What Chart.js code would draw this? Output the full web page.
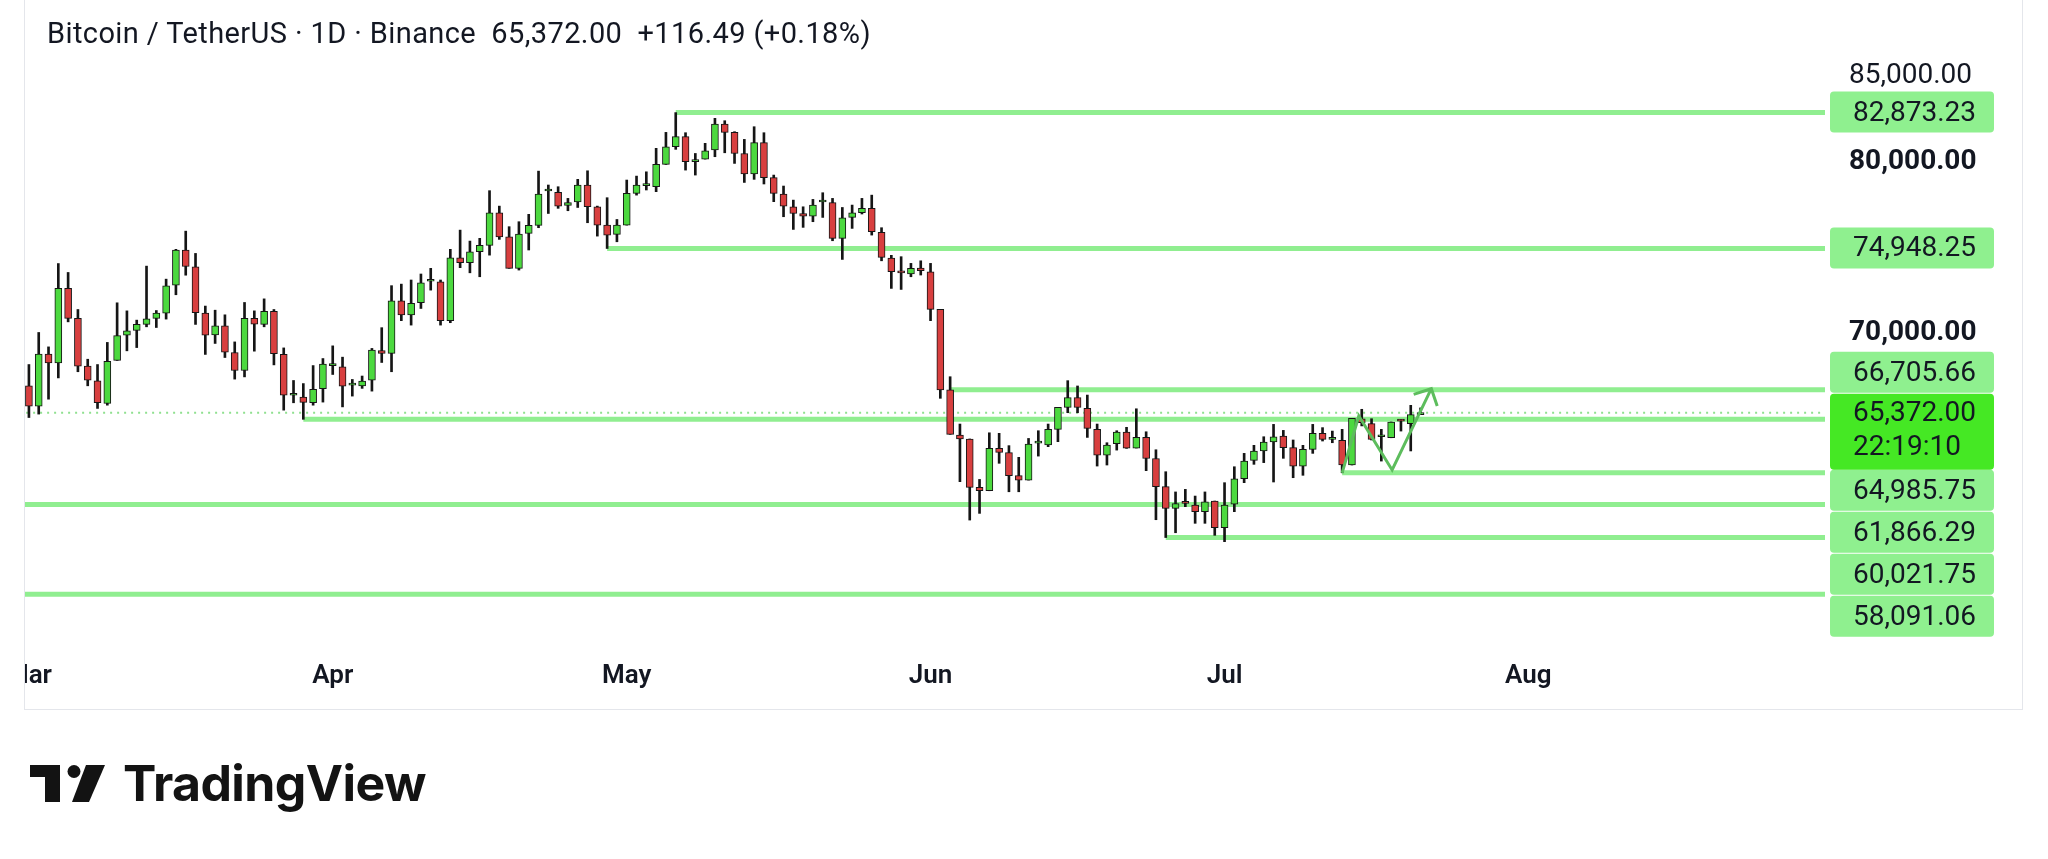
<!DOCTYPE html>
<html>
<head>
<meta charset="utf-8">
<title>BTCUSDT 1D</title>
<script src="https://cdn.jsdelivr.net/npm/chart.js@4.4.1/dist/chart.umd.min.js"></script>
<style>
  html, body { margin: 0; padding: 0; background: #fff; }
  body { width: 2048px; height: 859px; position: relative; overflow: hidden; font-family: Roboto, sans-serif; }
  #pane { position: absolute; left: 24px; top: 0; width: 1997px; height: 709px;
          border-left: 1px solid #e4e6eb; border-right: 1px solid #e4e6eb; border-bottom: 1px solid #e4e6eb; }
  #chart { position: absolute; left: 0; top: 0; }
  #title { position: absolute; left: 47px; top: 19px; font-size: 29px; line-height: 29px; color: #131722;
           white-space: pre; letter-spacing: 0.4px; }
  #logo { position: absolute; left: 30px; top: 758px; height: 60px; }
  #logo svg { position: absolute; left: 0; top: 7px; }
  #logo span { position: absolute; left: 93px; top: 0; font-family: Inter, sans-serif; font-weight: 700;
               font-size: 50px; line-height: 51px; color: #131313; white-space: nowrap; letter-spacing: -0.6px; }
</style>
</head>
<body>
<div id="pane"><canvas id="chart" width="1997" height="709"></canvas></div>
<div id="title">Bitcoin / TetherUS · 1D · Binance  65,372.00  +116.49 (+0.18%)</div>
<div id="logo">
  <svg width="80" height="40" viewBox="0 0 80 40">
    <path d="M0 0 H30 V37 H15 V12 H0 Z" fill="#131313"/>
    <circle cx="44" cy="6.5" r="6.5" fill="#131313"/>
    <path d="M56 0 H75 L59 37 H42 Z" fill="#131313"/>
  </svg>
  <span>TradingView</span>
</div>
<script>
// daily candles, 1 Mar .. 21 Jul (index 0 = 1 Mar)
const opens = [
  66940,65750,68790,68280,72620,70870,68090,67230,65910,68420,
  69890,70170,70520,70870,71180,72810,74850,73880,71180,69910,
  70440,68880,67830,70870,70520,71290,68770,66390,66280,65950,66780,
  68110,68050,66980,66930,67270,68990,68830,71900,71070,71790,
  73040,73010,70740,74410,74120,74760,75130,77030,75630,73790,
  75830,76300,78300,78220,77460,77660,78650,77380,76310,75770,
  76310,78160,78610,78550,79850,80880,81470,80010,80160,80690,
  82200,81720,80490,79290,81120,79080,78120,77380,76990,76840,
  77660,77620,75540,76760,77030,77290,75890,74390,73540,73460,73810,
  73590,71400,66706,64070,63840,61020,60820,63290,63040,61700,
  61440,63600,63490,64400,65680,66250,65620,64400,62900,63560,
  64240,63310,63930,62700,61060,59790,60090,59990,59600,60220,
  58670,60030,61520,62590,63140,63660,64010,63330,62260,63230,
  64170,63820,63760,62320,65020,64730,63970,63910,64890,64730,65256
];
const highs = [
  68180,70050,69210,74070,73550,71390,68490,68180,69470,71780,
  71310,70770,73920,71330,73160,74900,75960,74660,71590,71350,
  71080,69500,71800,71310,72010,71390,69150,67250,67070,68120,68530,
  69270,68610,67310,67510,69120,70330,72780,72870,73110,73460,
  73790,73110,74900,76020,75380,75540,78320,77420,76220,76510,
  76940,79460,78650,78550,77870,78980,79480,77420,77910,76640,
  78940,79170,79420,80790,81720,82873,81700,80490,81080,82540,
  82400,81760,81310,82050,81700,79230,78590,77770,77380,77810,
  78200,77870,77340,77480,77870,78060,76160,74550,74470,74080,74230,
  74080,71400,67470,64710,63840,61480,64200,64170,63450,62770,
  63870,64320,64710,65680,67240,66930,66400,64710,63620,64320,
  64520,65600,64260,63210,61930,60750,60900,60510,60750,60220,
  61290,62220,63000,63470,63970,64690,64340,63780,63470,64690,
  64500,64300,64400,65040,65570,65020,64400,64830,64980,65800,65650
];
const lows = [
  65090,65290,66160,67400,70670,67760,66940,65620,65810,68420,
  68980,69170,70380,70340,70830,72250,73390,70520,68770,69410,
  68590,67330,67460,68960,70380,68160,65520,65950,64986,65810,65990,
  67600,65710,66340,66790,66630,68300,67760,70740,70480,71450,
  72520,70480,70620,73830,73530,73300,74560,75480,73790,73690,
  74860,76160,76990,77290,77150,77340,76450,75670,74948,75340,
  76310,78060,78360,78260,79850,80730,79520,79230,80160,80300,
  80530,79910,78800,78980,78710,77680,76800,76060,76180,76510,
  76760,75400,74310,76120,76960,75730,74230,72620,72560,73300,73400,
  70740,66210,64110,61350,59110,59500,60820,62420,60760,60760,
  61440,62840,63390,63680,65370,65370,63930,62260,62320,63190,
  63290,63310,61990,59130,58091,58370,59890,58920,58920,58220,
  57850,59600,61290,62360,62460,61330,62710,61580,61720,63000,
  63720,63620,61866,62320,64600,63780,62550,63910,64300,63140,65256
];
const closes = [
  65750,68790,68280,72620,70870,68090,67270,65950,68360,69870,
  70150,70520,70850,71180,72770,74850,73900,71200,69890,70440,
  68900,67830,70870,70540,71290,68810,66390,66430,65970,66740,68200,
  68240,66920,66990,67220,69020,68830,71900,71070,71750,72950,
  73060,70740,74410,74120,74760,75130,77030,75630,73790,75790,
  76300,78120,78320,77420,77620,78650,77380,76310,75730,76310,
  78160,78650,78620,79850,80880,81470,80010,80110,80650,82200,
  81720,80490,79290,81120,79080,78160,77420,76990,76840,77480,
  77680,75540,76740,77030,77290,75930,74430,73590,73530,73790,73650,
  71400,66706,64110,63840,61020,60820,63290,63060,61700,61440,
  63540,63620,64400,65680,66250,65680,64460,62900,63490,64240,
  63310,63930,62700,61060,59790,60070,60080,59600,60180,58670,
  59990,61520,62550,63140,63660,63970,63330,62260,63230,64170,
  63820,63830,62320,65040,64790,63820,63980,64830,64880,65256,65372
];

const monthLabels = ['Mar', 'Apr', 'May', 'Jun', 'Jul', 'Aug'];
const monthStartDays = [0, 31, 61, 92, 122, 153];
const priceTicks = [85000, 80000, 70000];

// horizontal levels drawn on the chart
const levelPrices = [82873.23, 74948.25, 66705.66, 64985.75, 61866.29, 60021.75, 58091.06, 54780];
const levelStartDays = [66, 59, 94, 28, 134, -1, 116, -1];
const levelHasLabel = [true, true, true, true, true, true, true, false];

const lastPrice = 65372.00;
const countdown = '22:19:10';

// projection path drawn by hand
const pathDays = [134, 135.7, 139.1, 143.1];
const pathPrices = [61866, 65180, 62030, 66770];
const headDays = [141.3, 143.1, 143.7];
const headPrices = [66440, 66770, 65760];

const GREEN = '#4cd93f';
const RED = '#d83f3f';
const EDGE = '#151515';
const LEVEL = '#90ee90';
const fmt = v => v.toLocaleString('en-US', { minimumFractionDigits: 2, maximumFractionDigits: 2 });

const days = opens.map((_, i) => i);
const candleColor = i => closes[i] >= opens[i] ? GREEN : RED;

const datasets = [];
datasets.push({
  type: 'line', order: 9,
  data: [{ x: -1, y: lastPrice }, { x: 400, y: lastPrice }],
  borderColor: '#8fe08f', borderWidth: 2, borderDash: [2, 5], pointRadius: 0
});
levelPrices.forEach((p, i) => {
  datasets.push({
    type: 'line', order: 8,
    data: [{ x: levelStartDays[i], y: p }, { x: 400, y: p }],
    borderColor: LEVEL, borderWidth: 5, pointRadius: 0, borderCapStyle: 'butt'
  });
});
datasets.push({
  type: 'bar', order: 6, grouped: false,
  data: days.map(i => ({ x: i, y: [lows[i], highs[i]] })),
  backgroundColor: EDGE, borderWidth: 0, barThickness: 2
});
datasets.push({
  type: 'bar', order: 5, grouped: false,
  data: days.map(i => ({ x: i, y: [opens[i], closes[i]] })),
  backgroundColor: c => candleColor(c.dataIndex),
  borderColor: EDGE, borderWidth: 1, borderSkipped: false,
  barThickness: 7, minBarLength: 2
});
datasets.push({
  type: 'line', order: 1,
  data: pathDays.map((d, i) => ({ x: d, y: pathPrices[i] })),
  borderColor: '#5dbd5d', borderWidth: 3, pointRadius: 0, tension: 0
});
datasets.push({
  type: 'line', order: 1,
  data: headDays.map((d, i) => ({ x: d, y: headPrices[i] })),
  borderColor: '#5dbd5d', borderWidth: 3, pointRadius: 0, tension: 0
});

// price boxes on the right scale, stacked around the last price box
const priceLabels = {
  id: 'priceLabels',
  afterDraw(chart) {
    const ctx = chart.ctx;
    const ys = chart.scales.y;
    const boxX = chart.chartArea.right + 5, boxW = 164, boxH = 42;
    const curY = ys.getPixelForValue(lastPrice);
    const curTop = curY - 19, curH = 76;

    const items = levelPrices
      .map((p, i) => ({ p, show: levelHasLabel[i], y: ys.getPixelForValue(p) }))
      .filter(it => it.show);
    const above = items.filter(it => it.p > lastPrice).sort((a, b) => b.y - a.y);
    const below = items.filter(it => it.p <= lastPrice).sort((a, b) => a.y - b.y);
    let limit = curTop;
    above.forEach(it => {
      let top = it.y - boxH / 2;
      if (top + boxH > limit) top = limit - boxH;
      it.top = top; limit = top;
    });
    limit = curTop + curH;
    below.forEach(it => {
      let top = it.y - boxH / 2;
      if (top < limit) top = limit;
      it.top = top; limit = top + boxH;
    });

    ctx.save();
    ctx.font = '28px Roboto';
    ctx.textBaseline = 'middle';
    ctx.textAlign = 'left';
    above.concat(below).forEach(it => {
      ctx.fillStyle = '#8ff08f';
      ctx.beginPath();
      ctx.roundRect(boxX, it.top, boxW, boxH - 1, 4);
      ctx.fill();
      ctx.fillStyle = '#131722';
      ctx.fillText(fmt(it.p), boxX + 23, it.top + boxH / 2 + 1);
    });
    ctx.fillStyle = '#45e824';
    ctx.beginPath();
    ctx.roundRect(boxX, curTop, boxW, curH, 4);
    ctx.fill();
    ctx.fillStyle = '#131722';
    ctx.fillText(fmt(lastPrice), boxX + 23, curY + 1);
    ctx.fillText(countdown, boxX + 23, curY + 35);
    ctx.restore();
  }
};

new Chart(document.getElementById('chart'), {
  type: 'bar',
  data: { datasets },
  plugins: [priceLabels],
  options: {
    responsive: false,
    devicePixelRatio: 1,
    animation: false,
    layout: { padding: 0, autoPadding: false },
    plugins: { legend: { display: false }, tooltip: { enabled: false } },
    scales: {
      x: {
        type: 'linear', min: -0.4, max: 183.27, offset: false,
        grid: { display: false, drawTicks: false, offset: false }, border: { display: false },
        afterBuildTicks: s => { s.ticks = monthStartDays.map(v => ({ value: v })); },
        afterFit: s => { s.height = 59; s.paddingLeft = 0; s.paddingRight = 0; },
        ticks: {
          autoSkip: false, maxRotation: 0, padding: 11, color: '#131722',
          font: { family: 'Roboto', size: 26, weight: '600' },
          callback: v => monthLabels[monthStartDays.indexOf(v)] ?? ''
        }
      },
      y: {
        position: 'right', min: 51532, max: 89440, offset: false,
        grid: { display: false, drawTicks: false }, border: { display: false },
        afterBuildTicks: s => { s.ticks = priceTicks.map(v => ({ value: v })); },
        afterFit: s => { s.width = 197; s.paddingTop = 0; s.paddingBottom = 0; },
        ticks: {
          autoSkip: false, padding: 24, color: '#131722',
          font: c => ({ family: 'Roboto', size: 28, weight: (c.tick && c.tick.value % 10000 === 0) ? 'bold' : 'normal' }),
          callback: v => fmt(v)
        }
      }
    }
  }
});
</script>
</body>
</html>
